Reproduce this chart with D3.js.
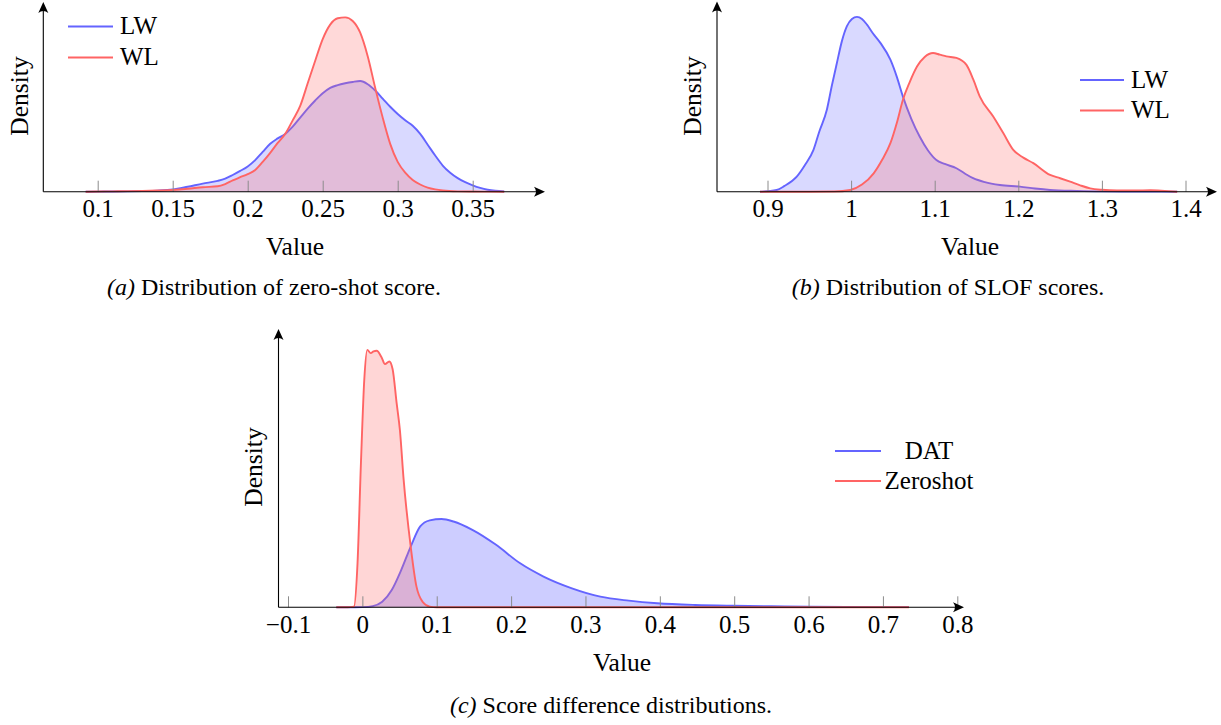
<!DOCTYPE html>
<html><head><meta charset="utf-8">
<script src="https://cdn.jsdelivr.net/npm/d3@7"></script>
<style>
html,body{margin:0;padding:0;background:#fff;}
svg text{font-family:"Liberation Serif","Times New Roman",serif;fill:#000;}
</style></head><body>
<svg id="chart" width="1221" height="725"></svg>
<script>
// ---------- Panel (a): zero-shot score ----------
const aTicks = [0.1, 0.15, 0.2, 0.25, 0.3, 0.35];
const aTickLabels = ["0.1", "0.15", "0.2", "0.25", "0.3", "0.35"];
const aLW_x = [0.092,0.100,0.110,0.120,0.130,0.140,0.150,0.160,0.170,0.180,0.185,0.190,0.195,0.200,0.205,0.210,0.215,0.220,0.225,0.230,0.235,0.240,0.245,0.250,0.255,0.260,0.265,0.270,0.275,0.280,0.285,0.290,0.295,0.300,0.305,0.310,0.315,0.320,0.325,0.330,0.335,0.340,0.345,0.350,0.355,0.360,0.365,0.371];
const aLW_y = [0,0.01,0.02,0.04,0.07,0.12,0.24,0.55,0.90,1.20,1.45,1.85,2.3,2.8,3.5,4.4,5.3,5.9,6.4,7.2,8.2,9.2,10.1,10.9,11.5,11.8,12.0,12.15,12.25,11.9,11.2,10.3,9.4,8.6,7.9,7.3,6.4,5.2,4.0,2.9,2.1,1.5,1.05,0.7,0.42,0.22,0.1,0.03];
const aWL_x = [0.092,0.100,0.110,0.120,0.130,0.140,0.150,0.160,0.170,0.180,0.185,0.190,0.195,0.200,0.205,0.210,0.215,0.220,0.225,0.230,0.235,0.240,0.245,0.250,0.255,0.260,0.265,0.270,0.275,0.280,0.285,0.290,0.295,0.300,0.305,0.310,0.315,0.320,0.325,0.330,0.340,0.350,0.360,0.371];
const aWL_y = [0,0.02,0.04,0.06,0.09,0.13,0.19,0.32,0.50,0.60,0.85,1.25,1.6,1.95,2.4,3.3,4.3,5.4,6.4,7.9,9.5,12.0,14.5,16.9,18.5,19.2,19.3,18.9,17.6,15.0,11.5,8.2,5.3,3.3,2.1,1.3,0.8,0.45,0.25,0.13,0.04,0.02,0.01,0];

// ---------- Panel (b): SLOF scores ----------
const bTicks = [0.9, 1.0, 1.1, 1.2, 1.3, 1.4];
const bTickLabels = ["0.9", "1", "1.1", "1.2", "1.3", "1.4"];
const bLW_x = [0.891,0.911,0.920,0.935,0.945,0.955,0.962,0.971,0.977,0.983,0.989,0.995,1.001,1.007,1.013,1.019,1.026,1.035,1.047,1.055,1.062,1.072,1.082,1.092,1.102,1.112,1.126,1.136,1.146,1.160,1.178,1.202,1.220,1.238,1.270,1.300,1.350,1.390];
const bLW_y = [0,0.11,0.35,0.95,1.7,2.64,3.8,5.17,6.7,8.12,9.5,10.44,10.9,11.03,10.9,10.54,10.0,9.39,8.33,7.2,6.0,4.6,3.48,2.6,2.0,1.75,1.48,1.15,0.85,0.6,0.42,0.32,0.2,0.11,0.05,0.02,0.01,0];
const bWL_x = [0.891,0.950,0.980,0.999,1.013,1.027,1.037,1.047,1.055,1.062,1.070,1.079,1.088,1.098,1.106,1.114,1.126,1.138,1.146,1.154,1.170,1.182,1.194,1.206,1.218,1.238,1.250,1.262,1.274,1.286,1.300,1.318,1.340,1.358,1.375,1.390];
const bWL_y = [0,0,0.01,0.11,0.45,1.16,2.0,3.06,4.4,5.8,6.9,7.91,8.5,8.75,8.65,8.54,8.44,8.0,7.1,6.0,4.74,3.7,2.64,2.15,1.8,1.06,0.85,0.63,0.4,0.21,0.12,0.08,0.08,0.09,0.05,0];

// ---------- Panel (c): score differences ----------
const cTicks = [-0.1, 0, 0.1, 0.2, 0.3, 0.4, 0.5, 0.6, 0.7, 0.8];
const cTickLabels = ["\u22120.1", "0", "0.1", "0.2", "0.3", "0.4", "0.5", "0.6", "0.7", "0.8"];
const cDAT_x = [-0.035,-0.010,0.000,0.014,0.0267,0.0395,0.0523,0.065,0.0778,0.0906,0.1065,0.1225,0.1479,0.1798,0.2117,0.2436,0.2818,0.320,0.3583,0.3966,0.4476,0.4987,0.550,0.6007,0.650,0.735];
const cDAT_y = [0,0,0.01,0.08,0.36,1.12,2.42,3.93,5.23,5.62,5.71,5.55,5.01,4.04,2.86,1.99,1.23,0.69,0.43,0.26,0.15,0.10,0.07,0.04,0.02,0.01];
const cZS_x = [-0.035,-0.020,-0.0114,-0.0065,-0.0019,0.0026,0.0066,0.0112,0.0150,0.0192,0.0259,0.0304,0.0362,0.0407,0.0461,0.0505,0.0555,0.0650,0.0727,0.0809,0.0906,0.100,0.735];
const cZS_y = [0,0,0.04,2.87,9.36,14.75,16.65,16.44,16.55,16.59,16.16,15.73,15.9,15.4,13.2,11.45,8.26,3.93,1.35,0.36,0.04,0,0];

const BLUE = "#6464ff", RED = "#ff6464";

const svg = d3.select("#chart");

function zip(xs, ys) { return xs.map((x, i) => ({x: x, y: ys[i]})); }

function drawPanel(cfg) {
  const g = svg.append("g");
  const x = d3.scaleLinear().domain(cfg.xDom).range(cfg.xRange);
  const y = d3.scaleLinear().domain([0, cfg.yMax]).range([cfg.base, cfg.top]);

  cfg.series.forEach(s => {
    const data = zip(s.xs, s.ys);
    const area = d3.area().x(d => x(d.x)).y0(y(0)).y1(d => y(d.y)).curve(d3.curveMonotoneX);
    const line = d3.line().x(d => x(d.x)).y(d => y(d.y)).curve(d3.curveMonotoneX);
    g.append("path").datum(data).attr("d", area)
      .attr("fill", s.fill).attr("fill-opacity", s.op).attr("stroke", "none");
    g.append("path").datum(data).attr("d", line)
      .attr("fill", "none").attr("stroke", s.color).attr("stroke-width", 1.9)
      .attr("stroke-linejoin", "round");
  });

  const ax = d3.axisBottom(x).tickValues(cfg.ticks)
    .tickFormat((d, i) => cfg.tickLabels[i])
    .tickSizeInner(-11).tickSizeOuter(0).tickPadding(8);
  const axg = g.append("g").attr("transform", `translate(0,${cfg.base})`).call(ax);
  axg.select(".domain").remove();
  axg.selectAll(".tick line").attr("stroke", "#8c8c8c").attr("stroke-width", 1);
  axg.selectAll(".tick text").attr("font-size", 25).attr("fill", "#000")
    .style("font-family", '"Liberation Serif", serif');

  g.append("line").attr("x1", cfg.yAxisX).attr("y1", cfg.base).attr("x2", cfg.arrowX - 4).attr("y2", cfg.base)
    .attr("stroke", "#000").attr("stroke-width", 1.1);
  g.append("line").attr("x1", cfg.yAxisX).attr("y1", cfg.base).attr("x2", cfg.yAxisX).attr("y2", cfg.top + 4)
    .attr("stroke", "#000").attr("stroke-width", 1.1);
  const ah = (tx, ty, rot) => g.append("path")
    .attr("d", "M0,0 L-11,-5 Q-7,0 -11,5 Z")
    .attr("transform", `translate(${tx},${ty}) rotate(${rot})`).attr("fill", "#000");
  ah(cfg.arrowX, cfg.base, 0);
  ah(cfg.yAxisX, cfg.top, -90);

  g.append("text").attr("x", cfg.valueX).attr("y", cfg.valueY).attr("text-anchor", "middle")
    .attr("font-size", 25.5).text("Value");
  g.append("text").attr("transform", `translate(${cfg.densX},${cfg.densY}) rotate(-90)`)
    .attr("text-anchor", "middle").attr("font-size", 25.5).text("Density");

  cfg.series.forEach((s, i) => {
    const ly = cfg.legY + i * cfg.legStep;
    g.append("line").attr("x1", cfg.legX1).attr("x2", cfg.legX2).attr("y1", ly).attr("y2", ly)
      .attr("stroke", s.color).attr("stroke-width", 2.2);
    g.append("text").attr("x", cfg.legTextX).attr("y", ly + 7.5)
      .attr("text-anchor", cfg.legAnchor).attr("font-size", 25).text(s.name);
  });

  const cap = g.append("text").attr("x", cfg.capX).attr("y", cfg.capY)
    .attr("text-anchor", "middle").attr("font-size", 24);
  cap.append("tspan").attr("font-style", "italic").text(cfg.capTag);
  cap.append("tspan").text(" " + cfg.capText);
}

drawPanel({
  xDom: [0.1, 0.35], xRange: [97.7, 472.7], yMax: 21, base: 191.7, top: 2,
  yAxisX: 43.3, arrowX: 545, ticks: aTicks, tickLabels: aTickLabels,
  series: [
    {name: "LW", xs: aLW_x, ys: aLW_y, color: BLUE, fill: "#6666ff", op: 0.25},
    {name: "WL", xs: aWL_x, ys: aWL_y, color: RED, fill: "#ff6666", op: 0.25}
  ],
  valueX: 295, valueY: 255, densX: 28, densY: 96,
  legX1: 68, legX2: 113, legY: 26.5, legStep: 31, legTextX: 120, legAnchor: "start",
  capX: 274, capY: 295, capTag: "(a)", capText: "Distribution of zero-shot score."
});

drawPanel({
  xDom: [0.9, 1.4], xRange: [767.5, 1185.5], yMax: 12, base: 191.7, top: 1.5,
  yAxisX: 717, arrowX: 1217, ticks: bTicks, tickLabels: bTickLabels,
  series: [
    {name: "LW", xs: bLW_x, ys: bLW_y, color: BLUE, fill: "#6666ff", op: 0.25},
    {name: "WL", xs: bWL_x, ys: bWL_y, color: RED, fill: "#ff6666", op: 0.25}
  ],
  valueX: 970, valueY: 255, densX: 701, densY: 96,
  legX1: 1080, legX2: 1124, legY: 80, legStep: 30.5, legTextX: 1131, legAnchor: "start",
  capX: 948, capY: 295, capTag: "(b)", capText: "Distribution of SLOF scores."
});

drawPanel({
  xDom: [-0.1, 0.8], xRange: [288, 957.3], yMax: 18, base: 607.3, top: 329,
  yAxisX: 278.5, arrowX: 964, ticks: cTicks, tickLabels: cTickLabels,
  series: [
    {name: "DAT", xs: cDAT_x, ys: cDAT_y, color: BLUE, fill: "#4a4aff", op: 0.28},
    {name: "Zeroshot", xs: cZS_x, ys: cZS_y, color: RED, fill: "#ff6666", op: 0.27}
  ],
  valueX: 622, valueY: 671, densX: 262, densY: 467,
  legX1: 835, legX2: 881, legY: 451, legStep: 30, legTextX: 929, legAnchor: "middle",
  capX: 611, capY: 713, capTag: "(c)", capText: "Score difference distributions."
});
</script>
</body></html>
